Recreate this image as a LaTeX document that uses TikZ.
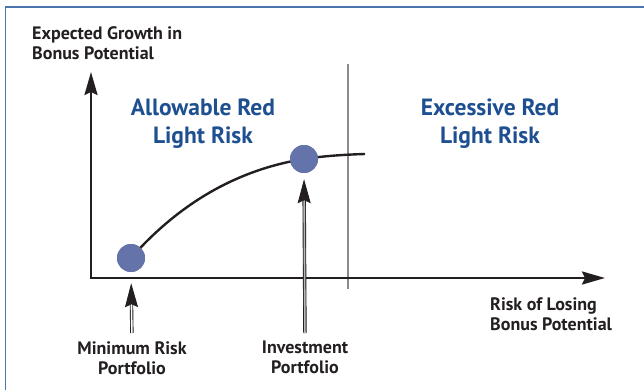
\documentclass[tikz,border=0pt]{standalone}
\usepackage{fontspec}
\setmainfont{PT Sans}
\usetikzlibrary{arrows.meta}
\definecolor{FrameBlue}{HTML}{4A74AC}
\definecolor{HeadBlue}{HTML}{1D4F91}
\definecolor{DotBlue}{HTML}{6474AA}
\definecolor{InkGray}{HTML}{231F20}
\definecolor{RuleGray}{HTML}{8A8A8A}

\begin{document}
\begin{tikzpicture}[x=1pt,y=-1pt,
    axis/.style={line width=2.4pt,InkGray,line join=miter},
    pointer/.style={line width=0.9pt,InkGray,double distance=1.6pt,
                    -{Stealth[length=24pt,width=13pt,inset=3pt]}},
    lbl/.style={font=\bfseries\fontsize{18}{20}\selectfont,text=InkGray,inner sep=0pt},
    zone/.style={font=\bfseries\fontsize{23.5}{28}\selectfont,text=HeadBlue,
                 align=center,inner sep=0pt,anchor=north},
    dot/.style={circle,fill=DotBlue,minimum size=28pt,inner sep=0pt}]
  \useasboundingbox (0,0) rectangle (644,390);
  \draw[FrameBlue,line width=1.2pt] (5.5,390) -- (5.5,7) -- (644,7);
  \coordinate (o) at (91,278);
  \coordinate (ytip) at (91,72);
  \coordinate (xtip) at (605,278);
  \coordinate (limtop) at (348,64);
  \coordinate (limbot) at (348,289);
  \coordinate (crvend) at (365,154);
  % risk limit
  \draw[RuleGray,line width=2.3pt] (limtop) -- (limbot);
  % axes
  \draw[axis,{Stealth[length=23pt,width=13pt,inset=3pt]}-{Stealth[length=23pt,width=13pt,inset=3pt]}]
    (ytip) -- (o) -- (xtip);
  \node[dot] (minrisk) at (131,258) {};
  \node[dot] (invest) at (304,159) {};
  \draw[line width=2.4pt,InkGray] (minrisk.center) .. controls (180.3,202.3) and (238,169.7) .. (invest.center)
    .. controls (321.3,156.3) and (341.7,154.7) .. (crvend);
  \node[dot] at (minrisk) {};
  \node[dot] at (invest) {};
  % labels
  \node[lbl,align=left,anchor=north west] (ylbl) at (32,26) {Expected Growth in\\Bonus Potential};
  \node[lbl,align=left,anchor=north west] (xlbl) at (490,297) {Risk of Losing\\Bonus Potential};
  \node[lbl,align=center,anchor=north] (minlbl) at (132,341) {Minimum Risk\\Portfolio};
  \node[lbl,align=center,anchor=north] (invlbl) at (305,341) {Investment\\Portfolio};
  \node[zone] (allow) at (203,99) {Allowable Red\\Light Risk};
  \node[zone] (excess) at (490,99) {Excessive Red\\Light Risk};
  % pointers to the two portfolios
  \draw[pointer,double=white,shorten <=8pt,shorten >=11pt] (minlbl.north) -- (minrisk.south);
  \draw[pointer,double=RuleGray!60,shorten <=8pt,shorten >=6pt] (invlbl.north) -- (invest.south);
\end{tikzpicture}
\end{document}
